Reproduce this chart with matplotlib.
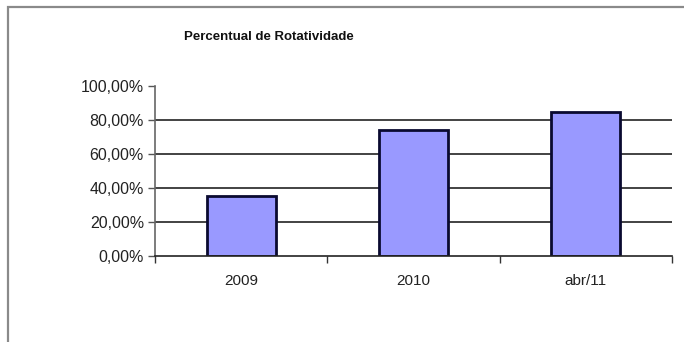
import matplotlib.pyplot as plt
from matplotlib.patches import Rectangle
from matplotlib.ticker import FixedLocator, FuncFormatter

# Data
categories = ['2009', '2010', 'abr/11']
values = [35.5, 74.0, 84.5]
y_ticks = [0, 20, 40, 60, 80, 100]

plt.rcParams['font.family'] = ['Liberation Sans', 'DejaVu Sans']

fig = plt.figure(figsize=(6.84, 3.42), dpi=100)
fig.patch.set_facecolor('white')

# outer chart-area border (only left and top visible in the crop)
fig.patches.append(Rectangle((8 / 684, -0.2), 1.2, 1.2 - 7 / 342,
                             transform=fig.transFigure, fill=False,
                             edgecolor='#8a8a8a', linewidth=1.6))

ax = fig.add_axes([155 / 684, 1 - 256 / 342, (672 - 155) / 684, (256 - 86) / 342])

x = list(range(len(categories)))
ax.bar(x, values, width=0.4, color='#9999ff', edgecolor='#0a0a30',
       linewidth=2, zorder=3)

ax.set_xlim(-0.5, len(categories) - 0.5)
ax.set_ylim(0, 100)

# gridlines
for v in y_ticks[1:-1]:
    ax.axhline(v, color='#222222', linewidth=1.2, zorder=1)

ax.set_yticks(y_ticks)
ax.yaxis.set_major_formatter(FuncFormatter(lambda v, p: f'{v:.2f}'.replace('.', ',') + '%'))
ax.tick_params(axis='y', direction='out', length=5, width=1, color='#555555',
               labelsize=11.5, labelcolor='#222222', pad=3)

ax.set_xticks(x)
ax.set_xticklabels(categories)
ax.xaxis.set_minor_locator(FixedLocator([i - 0.5 for i in range(len(categories) + 1)]))
ax.tick_params(axis='x', which='major', length=0, labelsize=11,
               labelcolor='#222222', pad=13)
ax.tick_params(axis='x', which='minor', direction='out', length=5, width=1,
               color='#333333')

for s in ['top', 'right']:
    ax.spines[s].set_visible(False)
ax.spines['left'].set_color('#666666')
ax.spines['left'].set_linewidth(1.2)
ax.spines['bottom'].set_color('#222222')
ax.spines['bottom'].set_linewidth(1.2)
ax.spines['bottom'].set_zorder(4)

fig.text(269 / 684, 1 - 37 / 342, 'Percentual de Rotatividade', ha='center',
         va='center', fontsize=9.5, fontweight='bold', color='#111111')

plt.savefig('out.png', dpi=100)
